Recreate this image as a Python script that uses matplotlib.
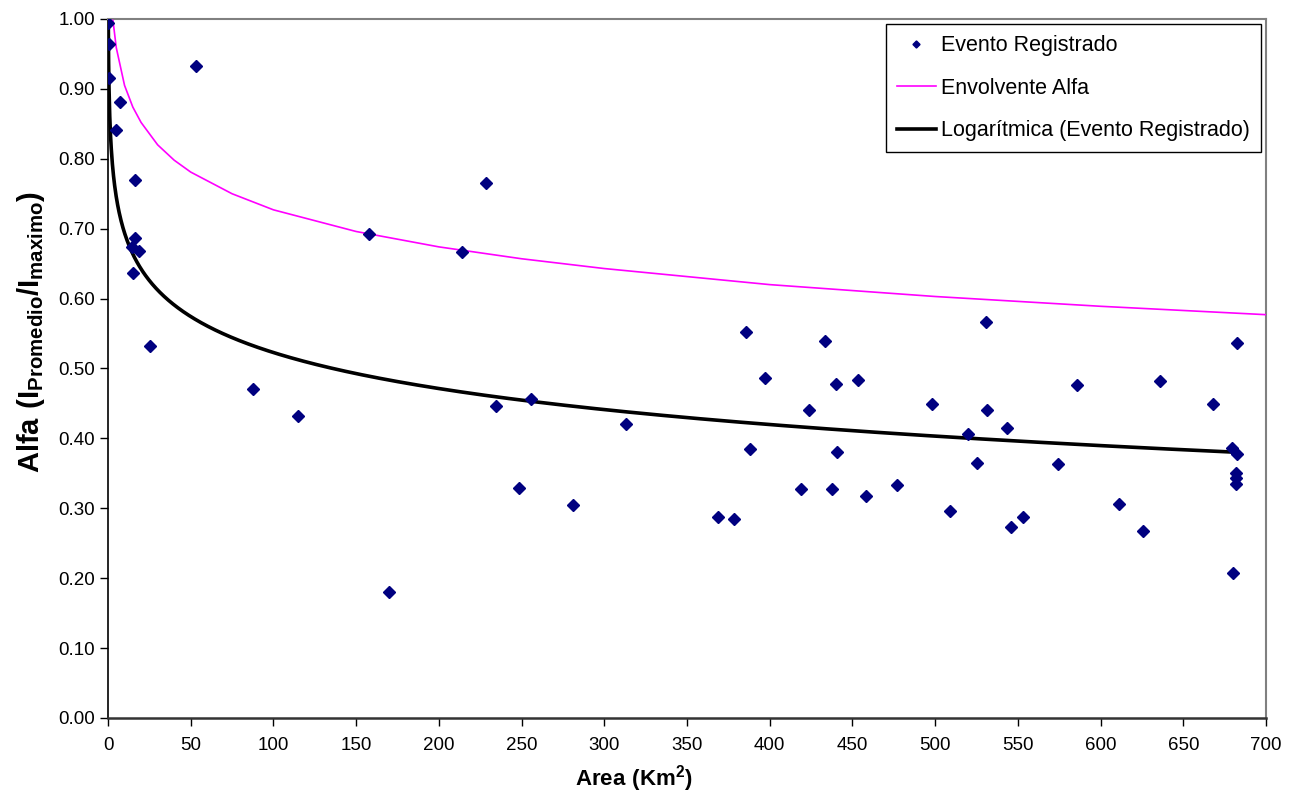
import numpy as np
import matplotlib
matplotlib.use('Agg')
import matplotlib.pyplot as plt
from matplotlib.ticker import FormatStrFormatter, MultipleLocator

plt.rcParams['font.family'] = ['Liberation Sans', 'DejaVu Sans']
plt.rcParams['mathtext.fontset'] = 'custom'
plt.rcParams['mathtext.rm'] = 'Liberation Sans'
plt.rcParams['mathtext.bf'] = 'Liberation Sans:bold'

# Evento Registrado (area km2, alfa)
area = [0.15, 0.6, 0.9, 7.3, 4.8, 16.3, 16.3, 14.3, 18.9, 14.9, 25.4, 53.4,
        87.7, 114.9, 157.9, 169.9, 214.2, 228.5, 234.3, 255.5, 248.4, 281.1,
        313.1, 385.7, 433.6, 530.5, 397.3, 440.1, 453.2, 423.9, 498.1, 531.1,
        388.2, 440.4, 519.9, 525.0, 418.7, 437.4, 458.5, 477.2, 509.0, 368.9,
        378.6, 682.4, 585.5, 636.1, 668.1, 543.6, 574.3, 679.4, 682.4, 681.8,
        682.0, 682.0, 553.3, 546.1, 611.4, 625.4, 680.0]
alfa = [0.994, 0.964, 0.916, 0.881, 0.841, 0.770, 0.687, 0.674, 0.668, 0.637,
        0.532, 0.933, 0.471, 0.432, 0.692, 0.180, 0.667, 0.765, 0.446, 0.457,
        0.329, 0.305, 0.421, 0.552, 0.539, 0.567, 0.486, 0.478, 0.483, 0.440,
        0.449, 0.440, 0.385, 0.380, 0.407, 0.365, 0.327, 0.327, 0.318, 0.334,
        0.296, 0.287, 0.285, 0.537, 0.477, 0.482, 0.449, 0.415, 0.364, 0.386,
        0.377, 0.351, 0.343, 0.335, 0.288, 0.273, 0.306, 0.267, 0.207]

# Envolvente Alfa
env_area = [3, 5, 10, 15, 20, 30, 40, 50, 75, 100, 150, 200, 250, 300, 400,
            500, 600, 700]
env_alfa = [0.998, 0.959, 0.905, 0.874, 0.852, 0.820, 0.798, 0.781, 0.750,
            0.727, 0.696, 0.674, 0.657, 0.643, 0.620, 0.603, 0.589, 0.577]

# tendencia logaritmica: y = a*ln(x) + b
trend_a = -0.0743
trend_b = 0.865

x = np.array(area)
y = np.array(alfa)
xt = np.linspace(x.min(), x.max(), 3000)
yt = trend_a*np.log(xt) + trend_b

fig = plt.figure(figsize=(12.97, 7.96), dpi=100)
ax = fig.add_axes([108/1297, 78/796, (1266-108)/1297, (718-19)/796])

ax.plot(x, y, 'D', color='#000080', ms=6, label='Evento Registrado', zorder=4)
ax.plot(env_area, env_alfa, color='#FF00FF', lw=1.2, label='Envolvente Alfa', zorder=3)
ax.plot(xt, yt, color='black', lw=2.6, label='Logarítmica (Evento Registrado)', zorder=3)

ax.set_xlim(0, 700)
ax.set_ylim(0, 1.0)
ax.xaxis.set_major_locator(MultipleLocator(50))
ax.yaxis.set_major_locator(MultipleLocator(0.1))
ax.yaxis.set_major_formatter(FormatStrFormatter('%.2f'))
ax.tick_params(labelsize=13.5, direction='out', length=6, width=1, colors='black')
ax.tick_params(axis='x', pad=8)

for s in ['top', 'right']:
    ax.spines[s].set_color('#808080')
    ax.spines[s].set_linewidth(1.5)
ax.spines['left'].set_color('black')
ax.spines['bottom'].set_color('#333333')
ax.spines['left'].set_linewidth(1.2)
ax.spines['bottom'].set_linewidth(1.8)

ax.set_xlabel(r'$\mathbf{Area\ (Km^2)}$', fontsize=16, labelpad=6)
ax.set_ylabel(r'$\mathbf{Alfa\ (I_{Promedio}/I_{maximo})}$', fontsize=21, labelpad=8)
ax.xaxis.label.set_x(0.454)
ax.yaxis.label.set_y(0.552)

leg = ax.legend(loc='upper right', fontsize=15.5, fancybox=False, framealpha=1,
                edgecolor='black', markerscale=0.6, handlelength=1.8,
                handletextpad=0.25, labelspacing=1.0, borderpad=0.5,
                borderaxespad=0.25)
leg.get_frame().set_linewidth(1)

plt.savefig('out.png', dpi=100)
